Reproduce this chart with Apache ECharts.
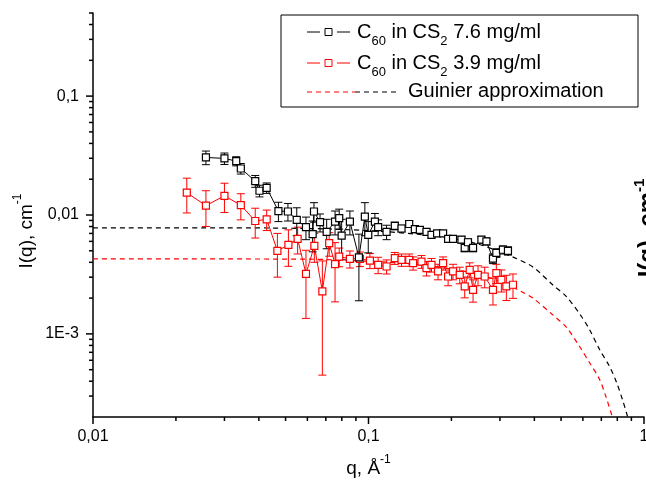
<!DOCTYPE html>
<html>
<head>
<meta charset="utf-8">
<script src="https://cdn.jsdelivr.net/npm/echarts@6/dist/echarts.min.js"></script>
<style>
  html, body { margin: 0; padding: 0; background: #fff; }
  #chart { width: 646px; height: 485px; }
</style>
</head>
<body>
<div id="chart"></div>
<script>
// C60 in CS2 7.6 mg/ml
var qBlack = [0.0257, 0.0300, 0.0331, 0.0344, 0.0388, 0.0402, 0.0427, 0.0471, 0.0510, 0.0549,
  0.0593, 0.0627, 0.0634, 0.0667, 0.0705, 0.0756, 0.0783, 0.0799, 0.0856, 0.0923,
  0.0970, 0.0998, 0.1055, 0.1084, 0.1163, 0.1246, 0.1318, 0.1405, 0.1473, 0.1536,
  0.1624, 0.1693, 0.1774, 0.1865, 0.1945, 0.2027, 0.2175, 0.2235, 0.2297, 0.2396,
  0.2569, 0.2679, 0.2830, 0.2911, 0.3076, 0.3208]
var iBlack = [0.0305, 0.0299, 0.0284, 0.0246, 0.0193, 0.0160, 0.0169, 0.0108, 0.0107, 0.0091,
  0.0079, 0.0069, 0.0107, 0.0087, 0.0072, 0.0088, 0.0094, 0.0067, 0.0088, 0.0044,
  0.0097, 0.0068, 0.0088, 0.0079, 0.0072, 0.0081, 0.0077, 0.0084, 0.0076, 0.0075,
  0.0072, 0.0068, 0.0070, 0.0070, 0.0063, 0.0063, 0.0062, 0.0053, 0.0059, 0.0053,
  0.0062, 0.0060, 0.0043, 0.0048, 0.0051, 0.0050]
var eBlack = [0.0040, 0.0033, 0.0025, 0.0025, 0.0022, 0.0018, 0.0017, 0.0020, 0.0018, 0.0024,
  0.0017, 0.0020, 0.0020, 0.0015, 0.0020, 0.0020, 0.0018, 0.0025, 0.0020, 0.0025,
  0.0030, 0.0020, 0.0015, 0.0012, 0.0010, 0.0006, 0.0005, 0.0005, 0.0005, 0.0004,
  0.0004, 0.0004, 0.0004, 0.0004, 0.0004, 0.0004, 0.0004, 0.0004, 0.0004, 0.0004,
  0.0004, 0.0004, 0.0004, 0.0004, 0.0004, 0.0004]

// C60 in CS2 3.9 mg/ml
var qRed = [0.0219, 0.0257, 0.0300, 0.0344, 0.0388, 0.0427, 0.0467, 0.0512, 0.0553, 0.0593,
  0.0636, 0.0680, 0.0720, 0.0756, 0.0783, 0.0856, 0.0931, 0.1012, 0.1084, 0.1163,
  0.1246, 0.1318, 0.1405, 0.1452, 0.1557, 0.1624, 0.1693, 0.1788, 0.1865, 0.1945,
  0.2027, 0.2144, 0.2235, 0.2330, 0.2396, 0.2498, 0.2641, 0.2830, 0.2911, 0.3036,
  0.3165, 0.3345]
var iRed = [0.0154, 0.0120, 0.0145, 0.0121, 0.0089, 0.0092, 0.0050, 0.0056, 0.0063, 0.0032,
  0.0055, 0.00228, 0.0058, 0.00386, 0.00447, 0.00428, 0.00428, 0.00414, 0.00381, 0.00369,
  0.00434, 0.0042, 0.0042, 0.00394, 0.00406, 0.00357, 0.00381, 0.00335, 0.00394, 0.00304,
  0.00335, 0.00314, 0.00251, 0.00346, 0.00235, 0.00314, 0.00304, 0.00235, 0.00325, 0.00285,
  0.00251, 0.00259]
var eRed = [0.0050, 0.0040, 0.0040, 0.0030, 0.0025, 0.0018, 0.0020, 0.0019, 0.0016, 0.00185,
  0.0015, 0.00183, 0.0013, 0.0020, 0.0008, 0.0007, 0.0006, 0.0006, 0.0006, 0.0005,
  0.0005, 0.0005, 0.0005, 0.0005, 0.0005, 0.0005, 0.0005, 0.0005, 0.0005, 0.0005,
  0.0005, 0.0005, 0.0005, 0.0005, 0.0005, 0.0006, 0.0006, 0.0006, 0.0006, 0.0006,
  0.0006, 0.0006]

// Guinier approximation curves
var qGuinierBlack = [0.01, 0.03, 0.06, 0.1, 0.15, 0.2, 0.25, 0.3, 0.333, 0.394, 0.466, 0.524,
  0.593, 0.634, 0.690, 0.750, 0.795, 0.835, 0.871]
var iGuinierBlack = [0.0078, 0.0078, 0.0077, 0.0074, 0.0069, 0.0064, 0.0057, 0.0049, 0.00445,
  0.00367, 0.00259, 0.00205, 0.0014, 0.00109, 0.000738, 0.000532, 0.000391, 0.000281, 0.000203]
var qGuinierRed = [0.01, 0.06, 0.1, 0.15, 0.2, 0.25, 0.3, 0.36, 0.394, 0.466, 0.524, 0.5835,
  0.634, 0.690, 0.727, 0.766]
var iGuinierRed = [0.00428, 0.00425, 0.00408, 0.00384, 0.00352, 0.00316, 0.00276, 0.00226,
  0.00201, 0.00145, 0.00113, 0.000783, 0.000574, 0.000414, 0.000298, 0.000203]

// axis ticks and labels
var xMajor = [0.01, 0.1, 1]
var xMajorLabels = ['0,01', '0,1', '1']
var xMinor = [0.02, 0.03, 0.04, 0.05, 0.06, 0.07, 0.08, 0.09, 0.2, 0.3, 0.4, 0.5, 0.6, 0.7, 0.8, 0.9]
var yMajor = [0.001, 0.01, 0.1]
var yMajorLabels = ['1E-3', '0,01', '0,1']
var yMinor = [0.0003, 0.0004, 0.0005, 0.0006, 0.0007, 0.0008, 0.0009,
  0.002, 0.003, 0.004, 0.005, 0.006, 0.007, 0.008, 0.009,
  0.02, 0.03, 0.04, 0.05, 0.06, 0.07, 0.08, 0.09, 0.2, 0.3, 0.4, 0.5]

var xMin = 0.01, xMax = 1, yMin = 0.0002, yMax = 0.5
var font = '"Liberation Sans", Arial, sans-serif'

function pairs(q, v) {
  return q.map(function(x, i) { return [x, v[i]] })
}
function errData(q, v, e) {
  return q.map(function(x, i) { return [x, v[i] - e[i], v[i] + e[i]] })
}
function labelFor(ticks, labels) {
  return function(v) {
    for (var i = 0; i < ticks.length; i++) {
      if (Math.abs(v - ticks[i]) / ticks[i] < 1e-6) return labels[i]
    }
    return ''
  }
}

var tickData = []
xMajor.forEach(function(v) { tickData.push([v, yMin, 7, 0]) })
xMinor.forEach(function(v) { tickData.push([v, yMin, 4, 0]) })
yMajor.forEach(function(v) { tickData.push([xMin, v, 7, 1]) })
yMinor.forEach(function(v) { tickData.push([xMin, v, 4, 1]) })

function renderTick(params, api) {
  var p = api.coord([api.value(0), api.value(1)])
  var len = api.value(2)
  var shape = api.value(3) === 0
    ? { x1: p[0], y1: p[1], x2: p[0], y2: p[1] + len }
    : { x1: p[0] - len, y1: p[1], x2: p[0], y2: p[1] }
  return { type: 'line', shape: shape, style: { stroke: '#000', lineWidth: 1.5 } }
}

function renderErr(params, api) {
  var q = api.value(0)
  var top = api.coord([q, api.value(2)])
  var bot = api.coord([q, api.value(1)])
  var col = api.visual('color')
  var c = 4
  return {
    type: 'group',
    children: [
      { type: 'line', shape: { x1: top[0], y1: top[1], x2: bot[0], y2: bot[1] }, style: { stroke: col, lineWidth: 1 } },
      { type: 'line', shape: { x1: top[0] - c, y1: top[1], x2: top[0] + c, y2: top[1] }, style: { stroke: col, lineWidth: 1 } },
      { type: 'line', shape: { x1: bot[0] - c, y1: bot[1], x2: bot[0] + c, y2: bot[1] }, style: { stroke: col, lineWidth: 1 } }
    ]
  }
}

// legend text: main size + lowered subscript
var richMain = {
  n: { fontSize: 20, fontFamily: font, color: '#000', lineHeight: 26, verticalAlign: 'top' },
  s: { fontSize: 13, fontFamily: font, color: '#000', lineHeight: 13, verticalAlign: 'bottom' }
}
var richSup = {
  a: { fontSize: 19, fontFamily: font, color: '#000', lineHeight: 24, verticalAlign: 'bottom' },
  b: { fontSize: 12, fontFamily: font, color: '#000', lineHeight: 12, verticalAlign: 'top' }
}
var richSupBold = {
  a: { fontSize: 24, fontWeight: 'bold', fontFamily: font, color: '#000', lineHeight: 28, verticalAlign: 'bottom' },
  b: { fontSize: 15, fontWeight: 'bold', fontFamily: font, color: '#000', lineHeight: 15, verticalAlign: 'top' }
}

var chart = echarts.init(document.getElementById('chart'))

var option = {
  animation: false,
  backgroundColor: '#fff',
  grid: { left: 93, right: 2, top: 13, bottom: 68, containLabel: false, outerBoundsMode: 'none' },
  xAxis: {
    type: 'log', logBase: 10, min: xMin, max: xMax,
    axisLine: { lineStyle: { color: '#000', width: 1.5 } },
    axisTick: { show: false },
    splitLine: { show: false },
    axisLabel: { formatter: labelFor(xMajor, xMajorLabels), fontSize: 16, fontFamily: font, color: '#000', margin: 12 },
    name: '{a|q, Å}{b|-1}',
    nameLocation: 'middle',
    nameGap: 37,
    nameTextStyle: { rich: richSup }
  },
  yAxis: {
    type: 'log', logBase: 10, min: yMin, max: yMax,
    axisLine: { lineStyle: { color: '#000', width: 1.5 } },
    axisTick: { show: false },
    splitLine: { show: false },
    axisLabel: { formatter: labelFor(yMajor, yMajorLabels), fontSize: 16, fontFamily: font, color: '#000', margin: 14 }
  },
  graphic: [
    { type: 'text', x: 24, y: 231, rotation: Math.PI / 2,
      style: { text: '{a|I(q), cm}{b|-1}', rich: richSup, align: 'center', verticalAlign: 'middle' } },
    // neighbouring panel's title, cut off at the right edge
    { type: 'text', x: 632, y: 228, rotation: Math.PI / 2,
      style: { text: '{a|I(q), cm}{b|-1}', rich: richSupBold, align: 'center', verticalAlign: 'top' } },
    // legend
    { type: 'rect', shape: { x: 281, y: 15, width: 357, height: 92 }, style: { fill: '#fff', stroke: '#000', lineWidth: 1 }, z: 10 },
    { type: 'line', shape: { x1: 307, y1: 32, x2: 320, y2: 32 }, style: { stroke: '#000', lineWidth: 1 }, z: 11 },
    { type: 'rect', shape: { x: 325, y: 28.5, width: 7, height: 7 }, style: { fill: '#fff', stroke: '#000', lineWidth: 1 }, z: 11 },
    { type: 'line', shape: { x1: 337, y1: 32, x2: 350, y2: 32 }, style: { stroke: '#000', lineWidth: 1 }, z: 11 },
    { type: 'text', x: 357, y: 35, z: 11,
      style: { text: '{n|C}{s|60}{n| in CS}{s|2}{n| 7.6 mg/ml}', rich: richMain, verticalAlign: 'middle' } },
    { type: 'line', shape: { x1: 307, y1: 63, x2: 320, y2: 63 }, style: { stroke: '#ff0000', lineWidth: 1 }, z: 11 },
    { type: 'rect', shape: { x: 325, y: 59.5, width: 7, height: 7 }, style: { fill: '#fff', stroke: '#ff0000', lineWidth: 1 }, z: 11 },
    { type: 'line', shape: { x1: 337, y1: 63, x2: 350, y2: 63 }, style: { stroke: '#ff0000', lineWidth: 1 }, z: 11 },
    { type: 'text', x: 357, y: 66, z: 11,
      style: { text: '{n|C}{s|60}{n| in CS}{s|2}{n| 3.9 mg/ml}', rich: richMain, verticalAlign: 'middle' } },
    { type: 'line', shape: { x1: 307, y1: 92, x2: 355, y2: 92 }, style: { stroke: '#ff0000', lineWidth: 1, lineDash: [5, 4] }, z: 11 },
    { type: 'line', shape: { x1: 355, y1: 92, x2: 400, y2: 92 }, style: { stroke: '#000', lineWidth: 1, lineDash: [5, 4] }, z: 11 },
    { type: 'text', x: 408, y: 91, z: 11,
      style: { text: 'Guinier approximation', fontSize: 20, fontFamily: font, fill: '#000', verticalAlign: 'middle' } }
  ],
  series: [
    {
      type: 'custom', name: 'ticks', data: tickData, renderItem: renderTick, clip: false, silent: true, z: 5
    },
    {
      type: 'line', name: 'Guinier 7.6', data: pairs(qGuinierBlack, iGuinierBlack), showSymbol: false, symbol: 'none',
      smooth: 0.3, lineStyle: { color: '#000', width: 1.2, type: [5, 4] }, z: 1
    },
    {
      type: 'line', name: 'Guinier 3.9', data: pairs(qGuinierRed, iGuinierRed), showSymbol: false, symbol: 'none',
      smooth: 0.3, lineStyle: { color: '#ff0000', width: 1.2, type: [5, 4] }, z: 1
    },
    {
      type: 'custom', name: 'err 3.9', data: errData(qRed, iRed, eRed), renderItem: renderErr,
      itemStyle: { color: '#ff0000' }, clip: true, z: 2
    },
    {
      type: 'line', name: 'C60 3.9', data: pairs(qRed, iRed), symbol: 'rect', symbolSize: 7,
      lineStyle: { color: '#ff0000', width: 1 },
      itemStyle: { color: '#fff', borderColor: '#ff0000', borderWidth: 1.2 }, z: 3
    },
    {
      type: 'custom', name: 'err 7.6', data: errData(qBlack, iBlack, eBlack), renderItem: renderErr,
      itemStyle: { color: '#000' }, clip: true, z: 2
    },
    {
      type: 'line', name: 'C60 7.6', data: pairs(qBlack, iBlack), symbol: 'rect', symbolSize: 7,
      lineStyle: { color: '#000', width: 1 },
      itemStyle: { color: '#fff', borderColor: '#000', borderWidth: 1.2 }, z: 3
    }
  ]
}

chart.setOption(option)
</script>
</body>
</html>
